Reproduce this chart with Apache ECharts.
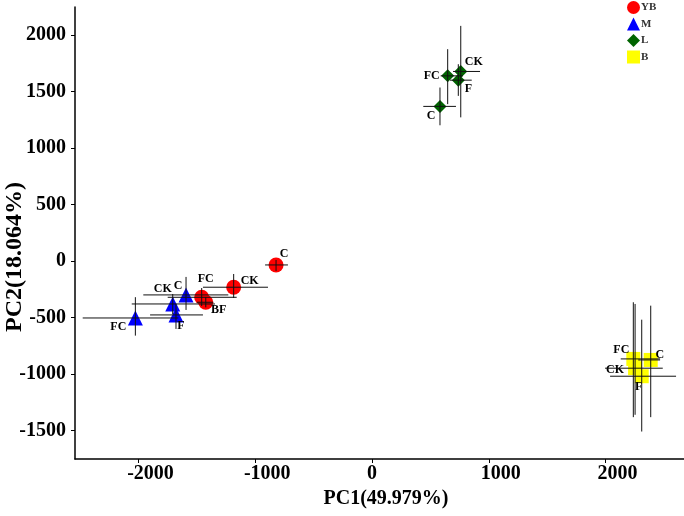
<!DOCTYPE html>
<html><head><meta charset="utf-8">
<script src="https://cdn.jsdelivr.net/npm/echarts@6/dist/echarts.min.js"></script>
<style>html,body{margin:0;padding:0;background:#fff}#c{width:684px;height:516px}</style>
</head><body><div id="c"></div>
<script>
// ---- data ----
const groups = ['YB', 'M', 'L', 'B'];
// YB
const ybLabels = ['C', 'CK', 'FC', 'BF'];
const ybX   = [-822, -1185, -1459, -1424];
const ybY   = [-35, -232, -321, -365];
const ybXlo = [-916, -1448, -1750, -1500];
const ybXhi = [-720, -891, -1159, -1360];
const ybYlo = [-88, -327, -398, -410];
const ybYhi = [9, -115, -239, -320];
// M
const mLabels = ['FC', 'CK', 'C', 'F'];
const mX   = [-2027, -1707, -1593, -1679];
const mY   = [-504, -380, -300, -477];
const mXlo = [-2478, -2058, -1959, -1901];
const mXhi = [-1659, -1345, -1231, -1448];
const mYlo = [-660, -469, -433, -601];
const mYhi = [-320, -292, -141, -380];
// L
const lLabels = ['CK', 'FC', 'F', 'C'];
const lX   = [760, 648, 739, 582];
const lY   = [1676, 1637, 1599, 1367];
const lXlo = [694, 588, 668, 439];
const lXhi = [925, 779, 854, 719];
const lYlo = [1270, 1387, 1460, 1200];
const lYhi = [2079, 1873, 1740, 1534];
// B
const bLabels = ['FC', 'C', 'CK', 'F'];
const bX   = [2238, 2387, 2253, 2310];
const bY   = [-866, -875, -948, -1019];
const bXlo = [2130, 2280, 1996, 2039];
const bXhi = [2467, 2467, 2490, 2604];
const bYlo = [-1381, -1381, -1360, -1508];
const bYhi = [-365, -395, -380, -519];

const xTicks = [-2000, -1000, 0, 1000, 2000];
const yTicks = [-1500, -1000, -500, 0, 500, 1000, 1500, 2000];

// ---- styling (not data) ----
const FONT = '"Liberation Serif", "Times New Roman", serif';
const colors = {YB: '#ff0000', M: '#0000ff', L: '#006400', B: '#ffff00'};
const symbols = {YB: 'circle', M: 'triangle', L: 'diamond', B: 'rect'};
const sizes = {YB: 15, M: 15, L: 13, B: 14};
const labelOffsets = {
  YB: [[8, -11], [16, -6], [4, -18], [13, 8]],
  M:  [[-17, 9], [-10, -15], [-8, -9], [5, 11]],
  L:  [[13, -10], [-16, 0], [10, 9], [-9, 10]],
  B:  [[-12, -9], [9, -5], [-20, 2], [-3, 11]]
};

const sets = {
  YB: [ybLabels, ybX, ybY, ybXlo, ybXhi, ybYlo, ybYhi],
  M:  [mLabels, mX, mY, mXlo, mXhi, mYlo, mYhi],
  L:  [lLabels, lX, lY, lXlo, lXhi, lYlo, lYhi],
  B:  [bLabels, bX, bY, bXlo, bXhi, bYlo, bYhi]
};

const series = [];
const errData = [];
groups.forEach(g => {
  const [lab, xs, ys, xlo, xhi, ylo, yhi] = sets[g];
  series.push({
    name: g, type: 'scatter', symbol: symbols[g], symbolSize: sizes[g],
    itemStyle: {color: colors[g], opacity: 1},
    z: 2,
    data: xs.map((x, i) => ({
      value: [x, ys[i]], name: lab[i],
      label: {
        show: true, formatter: lab[i], position: 'inside',
        offset: labelOffsets[g][i], color: '#000',
        fontFamily: FONT, fontWeight: 'bold', fontSize: 12
      }
    }))
  });
  xs.forEach((x, i) => errData.push([x, ys[i], xlo[i], xhi[i], ylo[i], yhi[i]]));
});

series.push({
  type: 'custom', z: 5, silent: true,
  renderItem: function (params, api) {
    const x = api.value(0), y = api.value(1);
    const a = api.coord([api.value(2), y]), b = api.coord([api.value(3), y]);
    const c = api.coord([x, api.value(4)]), d = api.coord([x, api.value(5)]);
    const st = {stroke: '#111', lineWidth: 1};
    return {type: 'group', children: [
      {type: 'line', shape: {x1: a[0], y1: a[1], x2: b[0], y2: b[1]}, style: st},
      {type: 'line', shape: {x1: c[0], y1: c[1], x2: d[0], y2: d[1]}, style: st}
    ]};
  },
  encode: {x: 0, y: 1},
  data: errData
});

const tickFont = {fontFamily: FONT, fontWeight: 'bold', fontSize: 20, color: '#000'};
const chart = echarts.init(document.getElementById('c'));
chart.setOption({
  animation: false,
  backgroundColor: '#fff',
  grid: {left: 75, right: 0, top: 7, bottom: 57, containLabel: false, outerBoundsMode: 'none'},
  legend: {
    data: groups.map(g => ({name: g, icon: symbols[g]})),
    orient: 'vertical', left: 622, top: -4, itemGap: 3.5,
    itemWidth: 13, itemHeight: 13,
    textStyle: {fontFamily: FONT, fontWeight: 'bold', fontSize: 11, color: '#333', padding: [0, 0, 0, -4]}
  },
  xAxis: {
    type: 'value', min: -2544, max: 2672,
    name: 'PC1(49.979%)', nameLocation: 'middle', nameGap: 30, nameMoveOverlap: false,
    nameTextStyle: {fontFamily: FONT, fontWeight: 'bold', fontSize: 20, color: '#000', padding: [0, 0, 0, 13]},
    axisLine: {show: true, onZero: false, lineStyle: {color: '#000', width: 1.5}},
    axisTick: {show: true, length: 4, customValues: xTicks, lineStyle: {color: '#000'}},
    axisLabel: {
      customValues: xTicks, margin: 5,
      formatter: v => (v === 0 ? '{z|0}' : '{n|' + v + '}'),
      rich: {z: tickFont, n: Object.assign({padding: [0, 0, 0, 24]}, tickFont)}
    },
    splitLine: {show: false}
  },
  yAxis: {
    type: 'value', min: -1751, max: 2246,
    name: 'PC2(18.064%)', nameLocation: 'middle', nameGap: 48, nameMoveOverlap: false,
    nameTextStyle: {fontFamily: FONT, fontWeight: 'bold', fontSize: 24, color: '#000', padding: [0, 48, 0, 0]},
    axisLine: {show: true, onZero: false, lineStyle: {color: '#000', width: 1.5}},
    axisTick: {show: true, length: 4, customValues: yTicks, lineStyle: {color: '#000'}},
    axisLabel: Object.assign({customValues: yTicks, formatter: v => String(v), margin: 9}, tickFont),
    splitLine: {show: false}
  },
  series: series
});
</script>
</body></html>
